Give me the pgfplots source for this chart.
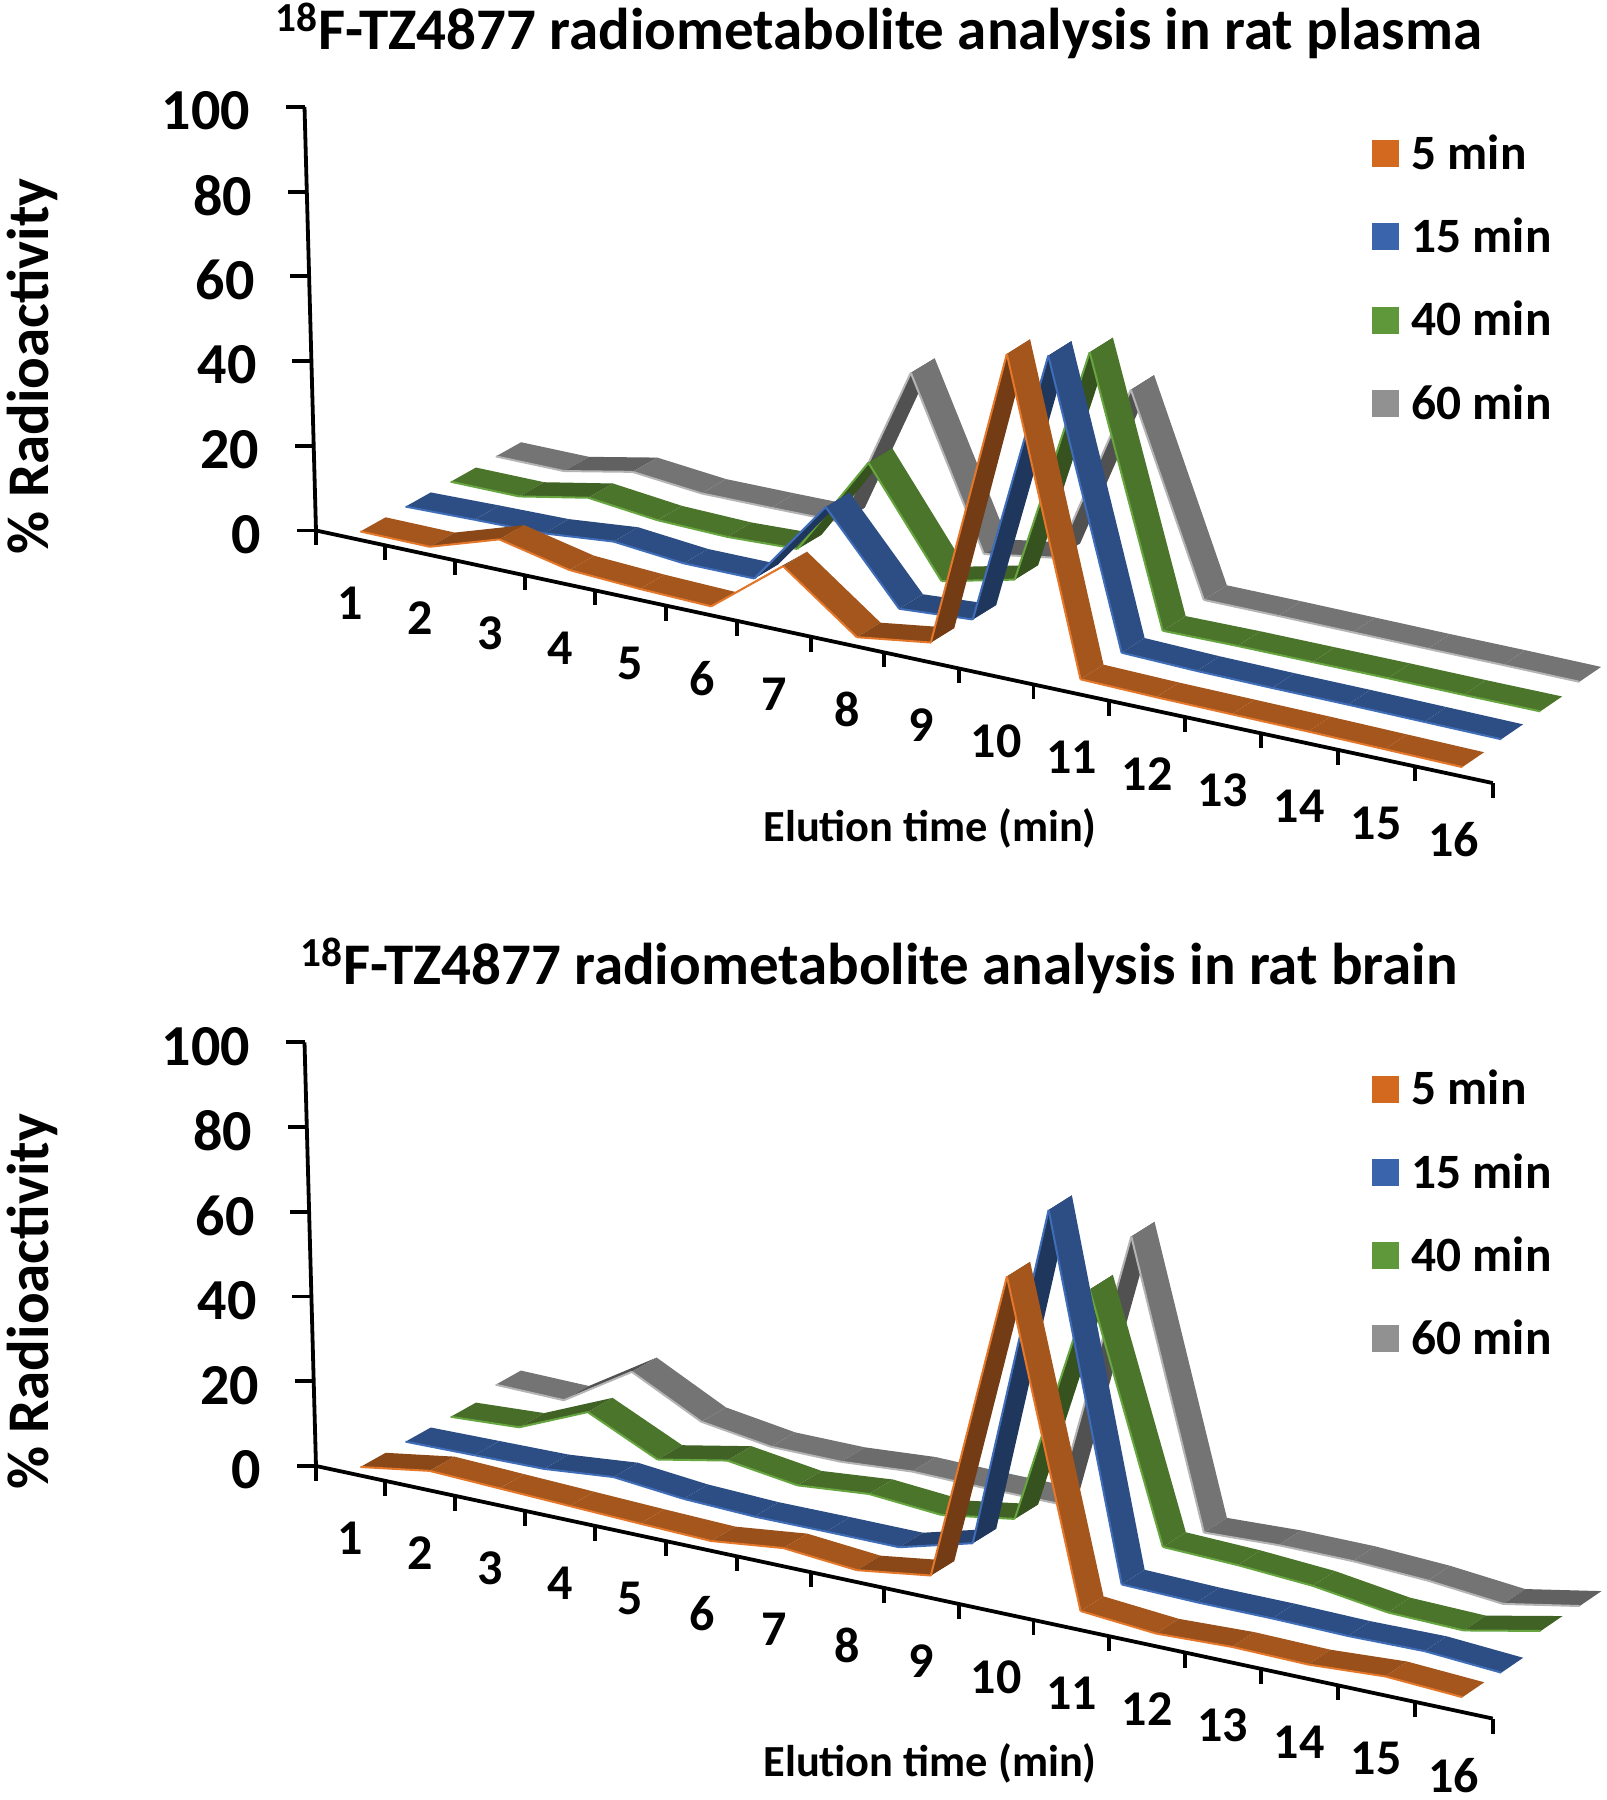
\documentclass[border=0pt]{standalone}
\usepackage{fontspec}
\setmainfont{Carlito}
\usepackage{pgfplots}
\usepackage{pgfplotstable}
\pgfplotsset{compat=1.18}

\definecolor{cA}{HTML}{A4561D}\definecolor{cAl}{HTML}{E4772A}\definecolor{cAk}{HTML}{D2691E}
\definecolor{cB}{HTML}{2D4E85}\definecolor{cBl}{HTML}{3F6DB8}\definecolor{cBk}{HTML}{3A64AB}
\definecolor{cC}{HTML}{4C752C}\definecolor{cCl}{HTML}{66A53F}\definecolor{cCk}{HTML}{5F983A}
\definecolor{cD}{HTML}{747474}\definecolor{cDl}{HTML}{B4B4B4}\definecolor{cDk}{HTML}{919191}

% x = position along the axis (the ticks get wider towards the right), then % radioactivity
\pgfplotstableread{
x     a    b    c    d
30    0.2  0.1  0.0  0.0
90.5  0.1  0.5  0.0  0.0
151.5 5.4  0.8  3.2  3.3
212.5 1.7  2.4  1.4  1.7
274   0.8  0.8  1.0  1.8
336   0.3  0.8  1.7  2.0
399   13.5 21.4 25.8 41.0
463   0.4  1.0  1.4  1.7
527.5 2.9  2.2  5.5  4.5
592.5 75.3 68.7 63.3 48.2
658   1.8  1.9  0.9  2.0
724   1.4  1.4  1.1  2.0
790   1.2  1.2  1.1  1.9
856.5 1.0  1.1  1.1  1.8
923.5 0.7  0.9  1.0  1.8
991   0.4  0.7  1.0  1.7
}\plasma
\pgfplotstableread{
x     a    b    c    d
30    0.2  0.2  0.1  1.7
90.5  2.8  0.5  1.1  1.5
151.5 2.2  0.8  8.2  11.7
212.5 1.6  2.4  0.5  3.4
274   1.0  0.8  3.8  1.0
336   0.5  0.2  1.5  1.0
399   2.5  0.3  3.1  2.3
463   1.0  0.3  1.8  2.1
527.5 3.5  5.0  4.6  2.1
592.5 78.4 88.0 62.9 69.3
658   2.7  2.8  5.5  2.7
724   1.2  2.4  5.0  3.5
790   1.9  2.4  3.9  3.5
856.5 1.6  2.1  1.4  2.7
923.5 2.7  2.4  1.0  1.0
991   1.7  1.2  4.8  4.4
}\brain

% one ribbon: table, column, depth, colour prefix
\newcommand\ribbon[4]{%
  \foreach \i in {0,...,14}{%
    \pgfmathtruncatemacro\j{\i+1}%
    \pgfplotstablegetelem{\i}{x}\of{#1}\let\xa\pgfplotsretval
    \pgfplotstablegetelem{\j}{x}\of{#1}\let\xb\pgfplotsretval
    \pgfplotstablegetelem{\i}{#2}\of{#1}\let\za\pgfplotsretval
    \pgfplotstablegetelem{\j}{#2}\of{#1}\let\zb\pgfplotsretval
    \pgfmathsetmacro\yf{#3+0.22}%
    \pgfmathsetmacro\yb{#3+0.78}%
    % perspective of the original 3D view: depth and height lean the x position
    \pgfmathsetmacro\lena{1-0.0056*\yf+0.0002025*\za}%
    \pgfmathsetmacro\lenb{1-0.0056*\yf+0.0002025*\zb}%
    \pgfmathsetmacro\xaf{\xa*\lena}%
    \pgfmathsetmacro\xbf{\xb*\lenb}%
    \pgfmathsetmacro\lena{1-0.0056*\yb+0.0002025*\za}%
    \pgfmathsetmacro\lenb{1-0.0056*\yb+0.0002025*\zb}%
    \pgfmathsetmacro\xab{\xa*\lena}%
    \pgfmathsetmacro\xbb{\xb*\lenb}%
    \pgfmathtruncatemacro\sh{(\zb-\za)>10 ? 70 : ((\zb-\za)>2 ? 84 : ((\zb-\za)>0.4 ? 93 : 100))}%
    \edef\temp{%
      \noexpand\addplot3[forget plot,draw=none,fill=#4!\sh!black]
        coordinates {(\xaf,\yf,\za)(\xbf,\yf,\zb)(\xbb,\yb,\zb)(\xab,\yb,\za)};
      \noexpand\addplot3[forget plot,no marks,line width=1pt,#4l]
        coordinates {(\xaf,\yf,\za)(\xbf,\yf,\zb)};
    }\temp
  }%
}

\pgfplotsset{
  ribbonaxis/.style={
    anchor=origin,
    disabledatascaling,
    x={(0.574pt,-0.1232pt)},
    y={(22.67pt,12.63pt)},
    z={(-0.0574pt,2.118pt)},
    xmin=0,xmax=1025,ymin=0,ymax=4,zmin=0,zmax=100,
    clip=false,
    axis lines=left,
    axis line style={-,line width=1.9pt,black},
    y axis line style={draw=none},
    ytick=\empty,
    xtick={30,90.5,151.5,212.5,274,336,399,463,527.5,592.5,658,724,790,856.5,923.5,991},
    xticklabels={1,2,3,4,5,6,7,8,9,10,11,12,13,14,15,16},
    ztick={0,20,40,60,80,100},
    major tick length=0pt,
    /pgf/number format/assume math mode=true,
    x tick label style={font=\fontsize{25}{25}\selectfont\bfseries,anchor=center,inner sep=0pt,yshift=-32.5pt},
    z tick label style={font=\fontsize{29}{29}\selectfont\bfseries,anchor=east,xshift=-23.8pt,yshift=-2pt},
    xlabel={Elution time (min)},
    xlabel style={at={(axis cs:531,0,-39.4)},anchor=center,inner sep=0pt,font=\fontsize{22.2}{23}\selectfont\bfseries},
    zlabel={\% Radioactivity},
    zlabel style={at={(axis cs:-244.5,0,24.5)},anchor=center,rotate=0,font=\fontsize{29.5}{30}\selectfont\bfseries},
    title style={at={(axis cs:504.7,0,144.5)},anchor=center,font=\fontsize{29.5}{30}\selectfont\bfseries},
    legend style={at={(axis cs:934,0,148.8)},anchor=north west,draw=none,fill=none,
      font=\fontsize{24.7}{25}\selectfont\bfseries,row sep=18.8pt,inner sep=0pt},
    legend cell align=left,
    legend image code/.code={\fill[##1] (0pt,-6.75pt) rectangle (13.5pt,6.75pt);\path (18pt,0pt);},
  },
}

\newcommand\ticksandlegend{%
  \foreach \t in {0,60,121,182,243,305,367,431,495,560,625,691,757,823,890,957,1025}{%
    \edef\temp{\noexpand\draw[line width=1.9pt] (axis cs:\t,0,0) -- ++(0,-7.5pt);}\temp
  }%
  \foreach \t in {0,20,40,60,80,100}{%
    \edef\temp{\noexpand\draw[line width=1.9pt] (axis cs:0,0,\t) -- ++(-9.5pt,0);}\temp
  }%
  \addlegendimage{fill=cAk,draw=none}\addlegendentry{5 min}
  \addlegendimage{fill=cBk,draw=none}\addlegendentry{15 min}
  \addlegendimage{fill=cCk,draw=none}\addlegendentry{40 min}
  \addlegendimage{fill=cDk,draw=none}\addlegendentry{60 min}
}

\begin{document}
\begin{tikzpicture}
  \path[use as bounding box] (0,0) rectangle (803.5pt,900pt);

  \begin{axis}[ribbonaxis,at={(158pt,634.75pt)},
      title={\textsuperscript{18}F-TZ4877 radiometabolite analysis in rat plasma}]
    \ribbon{\plasma}{d}{3}{cD}
    \ribbon{\plasma}{c}{2}{cC}
    \ribbon{\plasma}{b}{1}{cB}
    \ribbon{\plasma}{a}{0}{cA}
    \ticksandlegend
  \end{axis}

  \begin{axis}[ribbonaxis,at={(158pt,167pt)},
      title={\textsuperscript{18}F-TZ4877 radiometabolite analysis in rat brain}]
    \ribbon{\brain}{d}{3}{cD}
    \ribbon{\brain}{c}{2}{cC}
    \ribbon{\brain}{b}{1}{cB}
    \ribbon{\brain}{a}{0}{cA}
    \ticksandlegend
  \end{axis}
\end{tikzpicture}
\end{document}
